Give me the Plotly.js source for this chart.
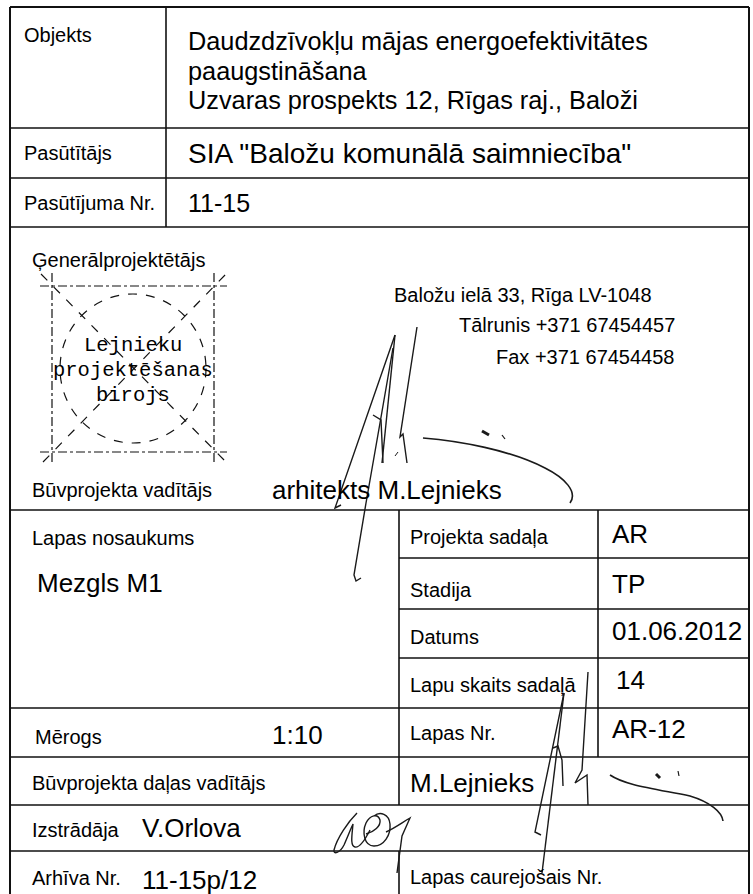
<!DOCTYPE html>
<html>
<head>
<meta charset="utf-8">
<script src="https://cdn.plot.ly/plotly-3.0.1.min.js"></script>
<style>html,body{margin:0;padding:0;background:#fff;}#chart{width:753px;height:894px;}</style>
</head>
<body>
<div id="chart"></div>
<script>
// ---------- content (text) ----------
const topLabels = ['Objekts', 'Pasūtītājs', 'Pasūtījuma Nr.'];
const objectLines = ['Daudzdzīvokļu mājas energoefektivitātes', 'paaugstināšana', 'Uzvaras prospekts 12, Rīgas raj., Baloži'];
const clientValue = 'SIA "Baložu komunālā saimniecība"';
const orderValue = '11-15';
const designerLabel = 'Ģenerālprojektētājs';
const stampLines = ['Lejnieku', 'projektēšanas', 'birojs'];
const contactLines = ['Baložu ielā 33, Rīga LV-1048', 'Tālrunis +371 67454457', 'Fax +371 67454458'];
const leaderLabel = 'Būvprojekta vadītājs';
const leaderValue = 'arhitekts M.Lejnieks';
const sheetNameLabel = 'Lapas nosaukums';
const sheetNameValue = 'Mezgls M1';
const leftLabels = ['Mērogs', 'Būvprojekta daļas vadītājs', 'Izstrādāja', 'Arhīva Nr.'];
const leftValues = ['1:10', '', 'V.Orlova', '11-15p/12'];
const rightLabels = ['Projekta sadaļa', 'Stadija', 'Datums', 'Lapu skaits sadaļā', 'Lapas Nr.'];
const rightValues = ['AR', 'TP', '01.06.2012', '14', 'AR-12'];
const partLeaderValue = 'M.Lejnieks';
const serialLabel = 'Lapas caurejošais Nr.';

// ---------- geometry (layout, page pixels) ----------
const X0 = 10, X1 = 749, XDIV = 166, XMID = 399, XVAL = 598;
const hLines = [7, 128, 178, 227, 510, 708, 757, 805, 851];
const rightHLines = [558, 609, 658];
const topRowY = [35, 153, 203];
const objectLineY = [41, 71, 100];
const contactY = [295, 325, 357];
const leftRowY = [737, 783, 830, 878];
const leftValY = [735, 783, 828, 880];
const rightRowY = [537, 590, 637, 685, 733];
const rightValY = [534, 584, 631, 680, 729];
const stampY = [345, 370, 395];

const SANS = 'Liberation Sans, Arial, sans-serif';
const MONO = 'Liberation Mono, Courier New, monospace';
const LBL = 20, VAL = 26;
const INK = '#000';

const shapes = [];
const ann = [];
function line(x0, y0, x1, y1, w, dash) {
  shapes.push({type: 'line', xref: 'x', yref: 'y', x0: x0, y0: y0, x1: x1, y1: y1,
    line: {color: '#111', width: w || 1.6, dash: dash || 'solid'}});
}
function txt(t, x, y, size, anchor, fam) {
  ann.push({text: t, x: x, y: y, xref: 'x', yref: 'y', showarrow: false,
    xanchor: anchor || 'left', yanchor: 'middle',
    font: {family: fam || SANS, size: size, color: INK}});
}
function path(p, w) {
  shapes.push({type: 'path', xref: 'x', yref: 'y', path: p,
    line: {color: '#1a1a1a', width: w || 1.4}});
}

// frame
line(X0, 7, X0, 894, 2);
line(X1, 7, X1, 894, 2);
hLines.forEach(function (y) { line(X0, y, X1, y, y === 7 ? 2 : 1.6); });
rightHLines.forEach(function (y) { line(XMID, y, X1, y, 1.6); });
line(XDIV, 7, XDIV, 227, 1.6);
line(XMID, 510, XMID, 805, 1.6);
line(XMID, 851, XMID, 894, 1.6);
line(XVAL, 510, XVAL, 757, 1.6);

// top rows
topLabels.forEach(function (t, i) { txt(t, 22, topRowY[i], LBL); });
objectLines.forEach(function (t, i) { txt(t, 186, objectLineY[i], 25.3); });
txt(clientValue, 186, topRowY[1], 28);
txt(orderValue, 186, topRowY[2], 25);

// designer block
txt(designerLabel, 30, 260, LBL);
txt(contactLines[0], 392, contactY[0], LBL);
txt(contactLines[1], 677, contactY[1], LBL, 'right');
txt(contactLines[2], 677, contactY[2], LBL, 'right');
txt(leaderLabel, 30, 490, LBL);
txt(leaderValue, 270, 490, VAL);

// stamp
line(40, 286, 227, 286, 1.2, 'dashdot');
line(40, 452, 227, 452, 1.2, 'dashdot');
line(52, 273, 52, 463, 1.2, 'dashdot');
line(214, 273, 214, 463, 1.2, 'dashdot');
line(41, 274, 226, 462, 1.2, 'dash');
line(43, 462, 227, 273, 1.2, 'dash');
shapes.push({type: 'circle', xref: 'x', yref: 'y', x0: 60, y0: 294, x1: 206, y1: 443,
  line: {color: '#111', width: 1.2, dash: 'dash'}});
stampLines.forEach(function (t, i) { txt(t, 133, stampY[i], 20.5, 'center', MONO); });

// lower-left
txt(sheetNameLabel, 30, 538, LBL);
txt(sheetNameValue, 35, 583, VAL);
leftLabels.forEach(function (t, i) { txt(t, i === 0 ? 33 : 30, leftRowY[i], LBL); });
leftValues.forEach(function (t, i) {
  if (t) txt(t, i === 0 ? 270 : 140, leftValY[i], VAL);
});

// lower-right
rightLabels.forEach(function (t, i) { txt(t, 408, rightRowY[i], LBL); });
rightValues.forEach(function (t, i) { txt(t, i === 3 ? 614 : 610, rightValY[i], VAL); });
txt(partLeaderValue, 408, 783, VAL);
txt(serialLabel, 408, 877, LBL);

// signature 1 (Būvprojekta vadītājs)
path('M 395 335 L 335 508 L 341 505');
path('M 395 335 L 382 463');
path('M 373 415 L 381 420 L 383 463');
path('M 393 348 L 380 423 L 366 503 L 354 575 L 356 581 L 361 578');
path('M 417 327 L 400 437 L 403 434 L 407 463');
path('M 395 456 L 398 452', 1);
path('M 423 438 C 460 441, 510 450, 545 468 C 565 478, 578 492, 570 503', 1.6);
path('M 482 431 L 489 435', 3);
path('M 502 435 L 505 439', 1.2);
// signature 2 (Būvprojekta daļas vadītājs)
path('M 564 693 L 535 832 L 541 835');
path('M 564 693 L 542 873');
path('M 553 748 L 558 746 L 562 760 L 563 786');
path('M 588 672 L 582 770 L 575 783 L 587 775 L 588 805');
path('M 610 775 C 625 785, 650 788, 690 796 C 710 802, 722 812, 723 821', 1.6);
path('M 656 774 L 660 778', 3);
path('M 678 771 L 679 776', 1.2);
// signature 3 (Izstrādāja)
path('M 357 813 C 348 822, 337 838, 334 850 C 333 855, 340 853, 344 845 C 348 836, 351 828, 353 824 C 352 835, 350 846, 355 847 C 360 848, 366 838, 370 830');
path('M 366 834 C 374 832, 381 826, 380 820 C 378 813, 370 815, 366 823 C 362 832, 364 846, 374 846 C 384 846, 391 835, 390 824 C 389 814, 380 811, 374 816');
path('M 386 832 C 395 828, 403 822, 410 818 L 402 836 L 397 873');

const layout = {
  width: 753, height: 894,
  margin: {l: 0, r: 0, t: 0, b: 0, pad: 0},
  paper_bgcolor: '#ffffff', plot_bgcolor: '#ffffff',
  showlegend: false,
  xaxis: {range: [0, 753], visible: false, fixedrange: true},
  yaxis: {range: [894, 0], visible: false, fixedrange: true},
  shapes: shapes,
  annotations: ann
};
Plotly.newPlot('chart', [{type: 'scatter', x: [], y: [], hoverinfo: 'skip'}], layout,
  {staticPlot: true, displayModeBar: false});
</script>
</body>
</html>
